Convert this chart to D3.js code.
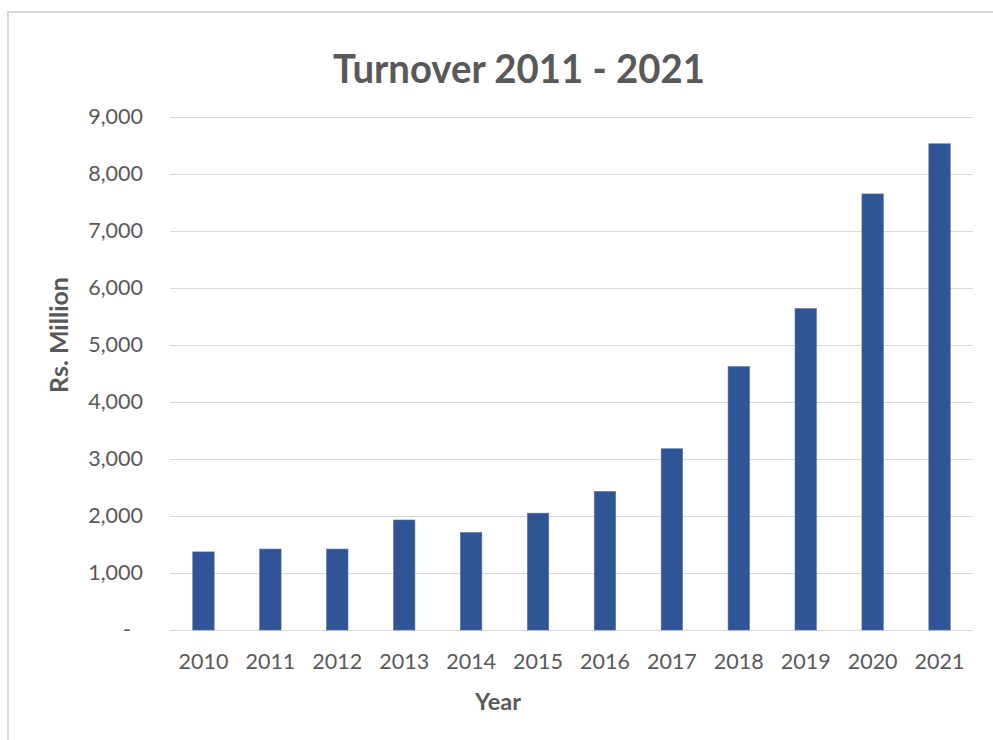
<!DOCTYPE html>
<html>
<head>
<meta charset="utf-8">
<script src="https://cdn.jsdelivr.net/npm/d3@7"></script>
<style>
  html, body { margin: 0; padding: 0; background: #fff; }
  svg { display: block; }
  text { font-family: Lato, "Open Sans", sans-serif; }
</style>
</head>
<body>
<svg id="chart" width="993" height="740"></svg>
<script>
const years = ["2010","2011","2012","2013","2014","2015","2016","2017","2018","2019","2020","2021"];
const turnover = [1370, 1420, 1420, 1930, 1710, 2050, 2430, 3180, 4620, 5640, 7650, 8530];
const yTicks = [0, 1000, 2000, 3000, 4000, 5000, 6000, 7000, 8000, 9000];
const titleText = "Turnover 2011 - 2021";
const yTitle = "Rs. Million";
const xTitle = "Year";

const svg = d3.select("#chart");
const textColor = "#595959";
const gridColor = "#d9d9d9";
const barColor = "#2F5597";

// outer chart frame
svg.append("rect")
  .attr("x", 8).attr("y", 12)
  .attr("width", 1100).attr("height", 800)
  .attr("fill", "none")
  .attr("stroke", "#d9d9d9")
  .attr("stroke-width", 2);

const plot = { left: 170, right: 973, top: 117, bottom: 630 };

const x = d3.scaleBand()
  .domain(years)
  .range([plot.left, plot.right])
  .paddingInner(0.68)
  .paddingOuter(0.34);

const y = d3.scaleLinear()
  .domain([0, 9000])
  .range([plot.bottom, plot.top]);

// gridlines
const grid = svg.append("g");
grid.selectAll("line")
  .data(yTicks)
  .join("line")
  .attr("x1", plot.left).attr("x2", plot.right)
  .attr("y1", d => Math.round(y(d)) + 0.5)
  .attr("y2", d => Math.round(y(d)) + 0.5)
  .attr("stroke", gridColor)
  .attr("stroke-width", 1);

// y axis
const yAxis = d3.axisLeft(y)
  .tickValues(yTicks)
  .tickSize(0)
  .tickPadding(0)
  .tickFormat(d => d === 0 ? "-" : d3.format(",")(d));
const yg = svg.append("g")
  .attr("transform", `translate(${143},0)`)
  .call(yAxis);
yg.select(".domain").remove();
yg.selectAll("text")
  .attr("fill", textColor)
  .style("font-size", "21.5px")
  .attr("dx", d => d === 0 ? -12 : 0);

// x axis
const xAxis = d3.axisBottom(x).tickSize(0).tickPadding(0);
const xg = svg.append("g")
  .attr("transform", `translate(0,${plot.bottom})`)
  .call(xAxis);
xg.select(".domain").remove();
xg.selectAll("text")
  .attr("fill", textColor)
  .style("font-size", "21.5px")
  .attr("dy", null)
  .attr("y", 39);

// bars
svg.append("g")
  .selectAll("rect")
  .data(years.map((yr, i) => ({ yr, v: turnover[i] })))
  .join("rect")
  .attr("x", d => x(d.yr))
  .attr("y", d => y(d.v))
  .attr("width", x.bandwidth())
  .attr("height", d => y(0) - y(d.v))
  .attr("fill", barColor)
  .attr("stroke", "#5a6f95")
  .attr("stroke-width", 0.6);

// title
svg.append("text")
  .attr("x", 519).attr("y", 83)
  .attr("text-anchor", "middle")
  .attr("fill", textColor)
  .style("font-size", "40px")
  .style("font-weight", "bold")
  .attr("textLength", 372)
  .attr("lengthAdjust", "spacingAndGlyphs")
  .text(titleText);

// x title
svg.append("text")
  .attr("x", 498).attr("y", 710)
  .attr("text-anchor", "middle")
  .attr("fill", textColor)
  .style("font-size", "23.5px")
  .style("font-weight", "bold")
  .text(xTitle);

// y title
svg.append("text")
  .attr("transform", "translate(68,335) rotate(-90)")
  .attr("text-anchor", "middle")
  .attr("fill", textColor)
  .style("font-size", "25px")
  .style("font-weight", "bold")
  .text(yTitle);
</script>
</body>
</html>
